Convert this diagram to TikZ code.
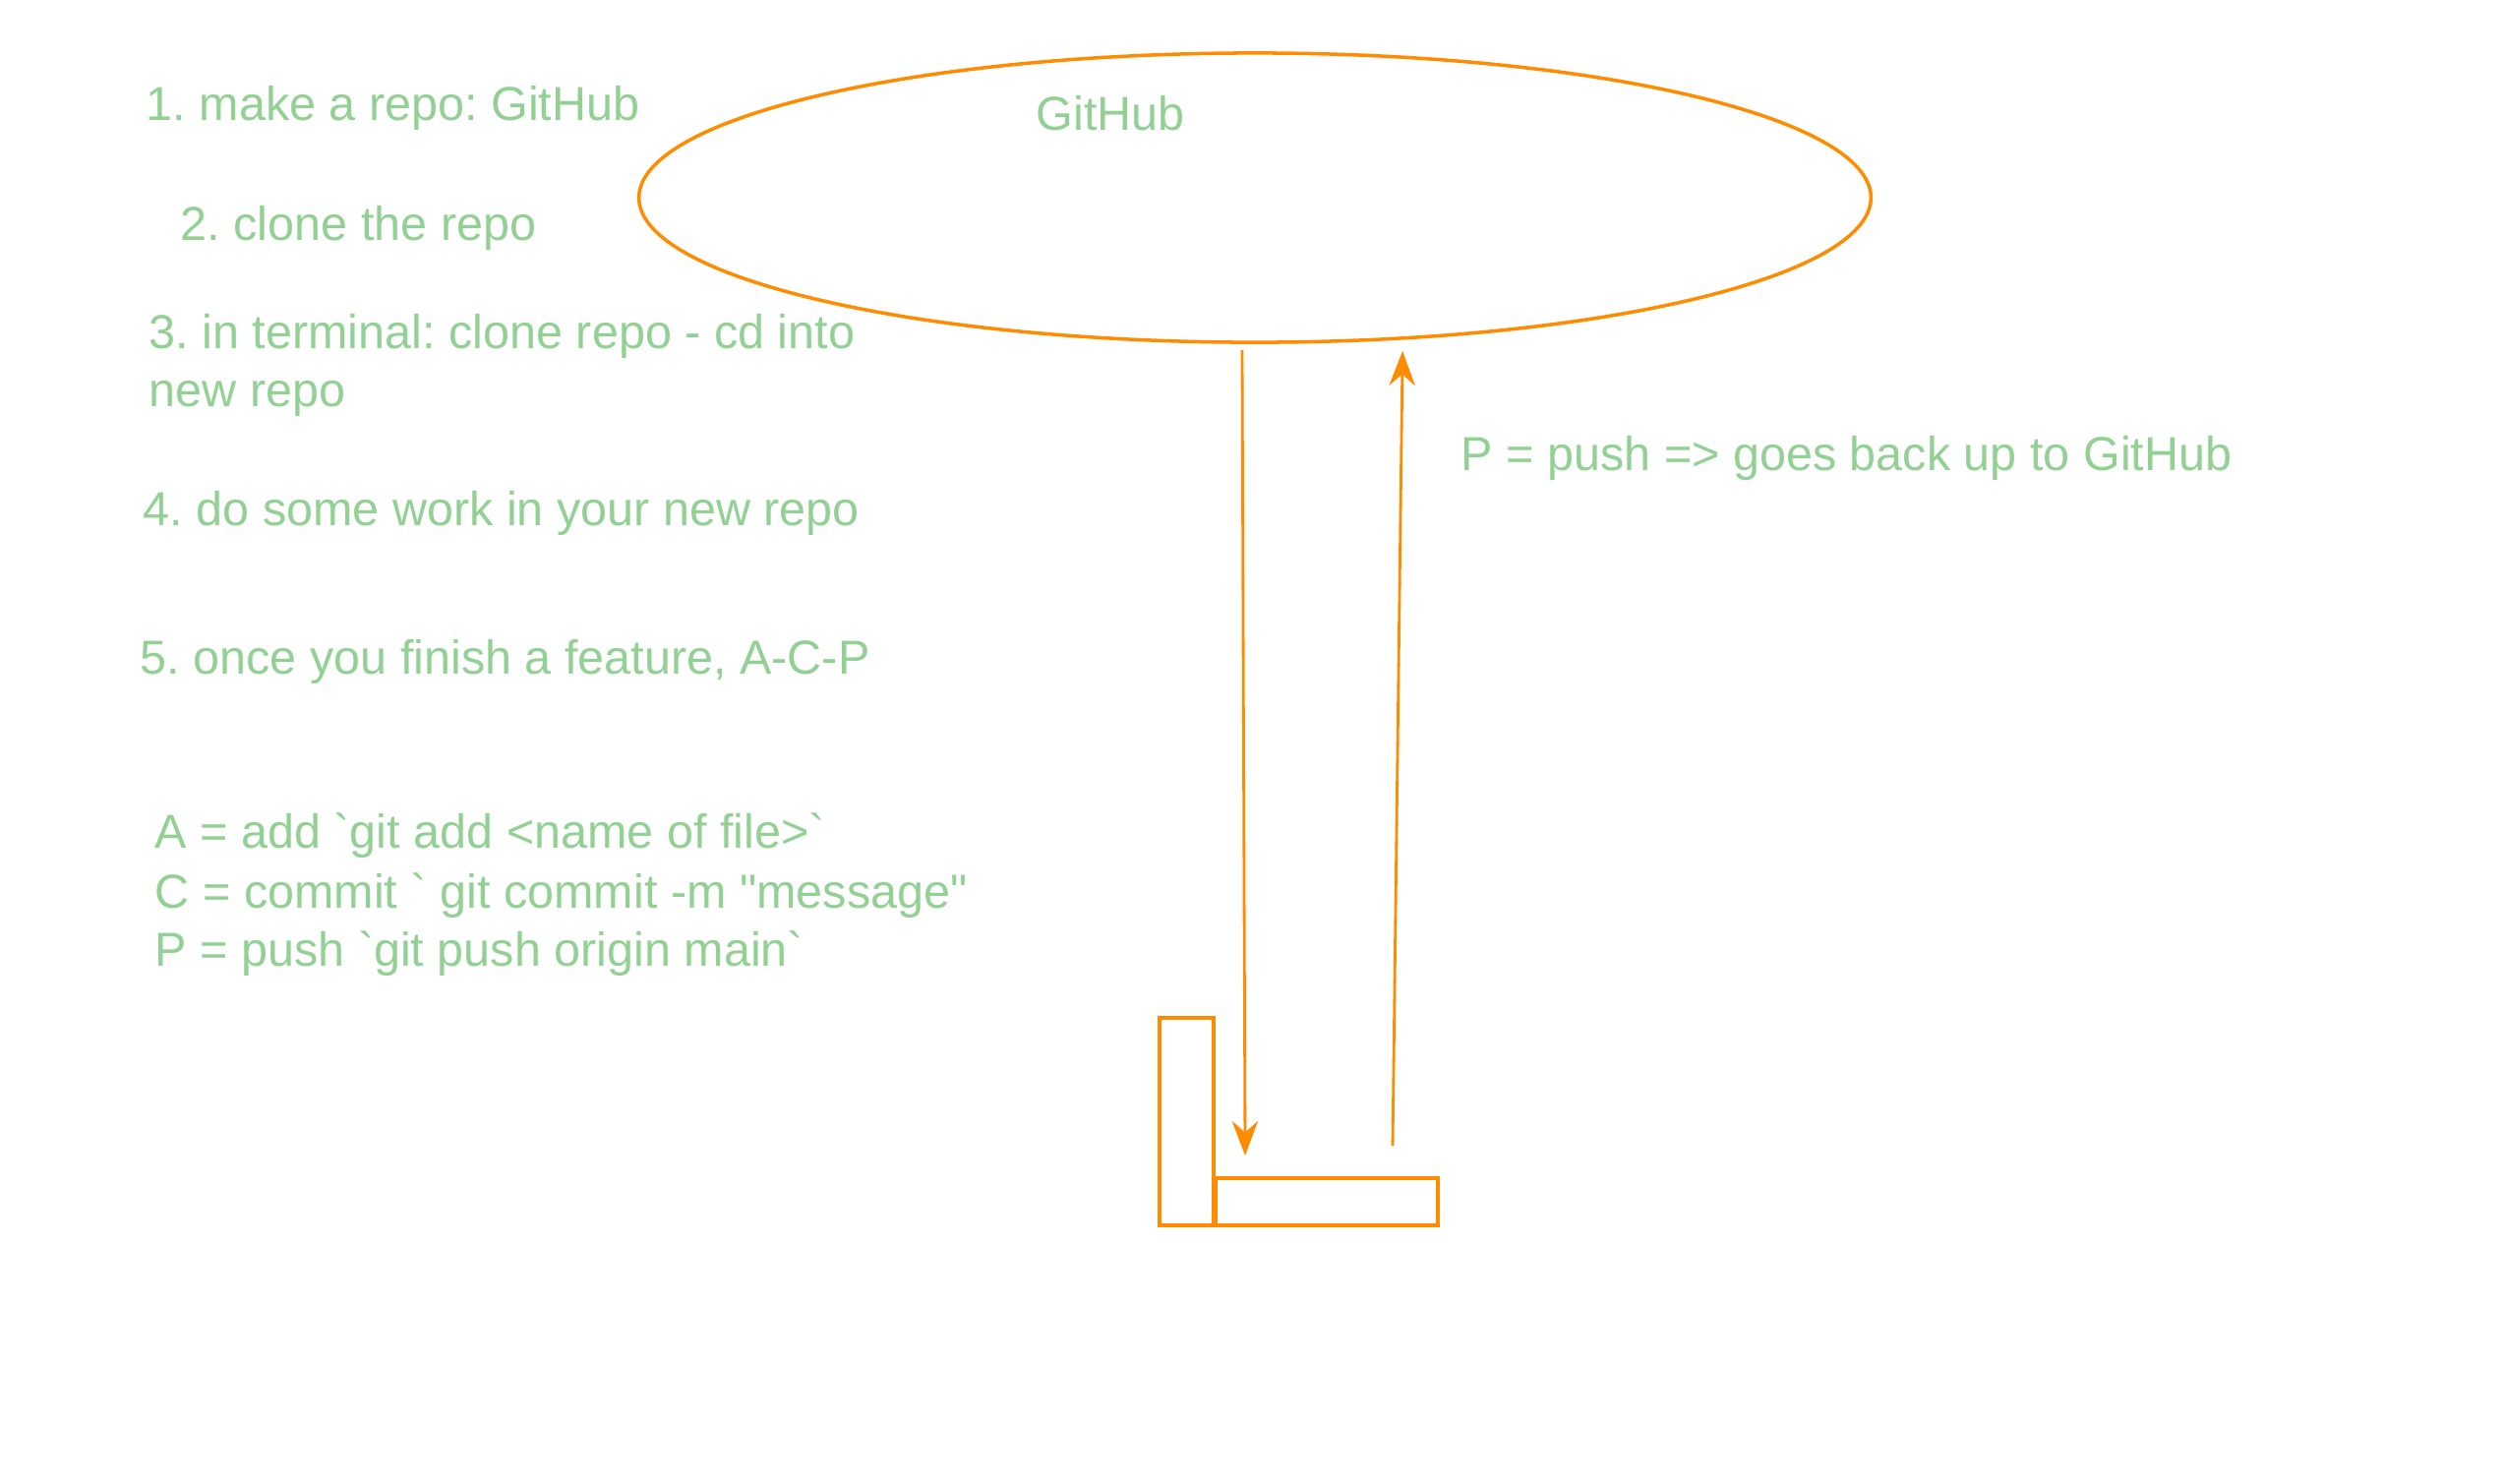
\documentclass[tikz,border=0pt]{standalone}
\usepackage{fontspec}
\setmainfont{Liberation Sans}[Ligatures=TeXOff]
\usepackage{xcolor}
\usetikzlibrary{arrows.meta,positioning,shapes.geometric,calc}
\definecolor{gitorange}{RGB}{255,140,0}
\definecolor{notegreen}{RGB}{146,208,148}
\frenchspacing

\begin{document}
\begin{tikzpicture}[x=0.01cm,y=-0.01cm,
  note/.style={anchor=base west,inner sep=0pt,text=notegreen,font=\fontsize{13.8}{16.8}\selectfont},
  box/.style={draw=gitorange,line width=1.1pt,inner sep=0pt,rectangle},
  flow/.style={draw=gitorange,line width=0.8pt,-{Stealth[length=10pt,width=7.5pt,inset=3.3pt]}}]
  \useasboundingbox (0,0) rectangle (2544,1508);
  % remote and local
  \node[ellipse,draw=gitorange,line width=1pt,inner sep=0pt,minimum width=12.52cm,minimum height=2.94cm] (github) at (1276,201) {};
  \node[note] (ghlabel) at (1053,132) {GitHub};
  \node[box,minimum width=0.55cm,minimum height=2.11cm] (folder) at (1206.5,1140.5) {};
  \node[box,minimum width=2.26cm,minimum height=0.48cm] (local) at (1349,1222) {};
  % clone down, push up
  \draw[flow] ([xshift=-0.13cm,yshift=-0.06cm]github.south) -- ([xshift=0.32cm,yshift=0.21cm]local.north west);
  \draw[flow] ([xshift=0.67cm,yshift=0.31cm]local.north) -- ([xshift=1.5cm,yshift=-0.07cm]github.south);
  \node[note] (pushnote) at (1485,478) {P = push => goes back up to GitHub};
  % steps
  \node[note] (step1) at (148,122) {1. make a repo: GitHub};
  \node[note] (step2) at (183,244) {2. clone the repo};
  \node[note] (step3a) at (151,354) {3. in terminal: clone repo - cd into};
  \node[note] (step3b) at (151,413) {new repo};
  \node[note] (step4) at (145,534) {4. do some work in your new repo};
  \node[note] (step5) at (142,685) {5. once you finish a feature, A-C-P};
  % commands
  \node[note] (cmdA) at (157,862) {A = add `git add <name of file>`};
  \node[note] (cmdC) at (157,923) {C = commit ` git commit -m "message"};
  \node[note] (cmdP) at (157,982) {P = push `git push origin main`};
\end{tikzpicture}
\end{document}
